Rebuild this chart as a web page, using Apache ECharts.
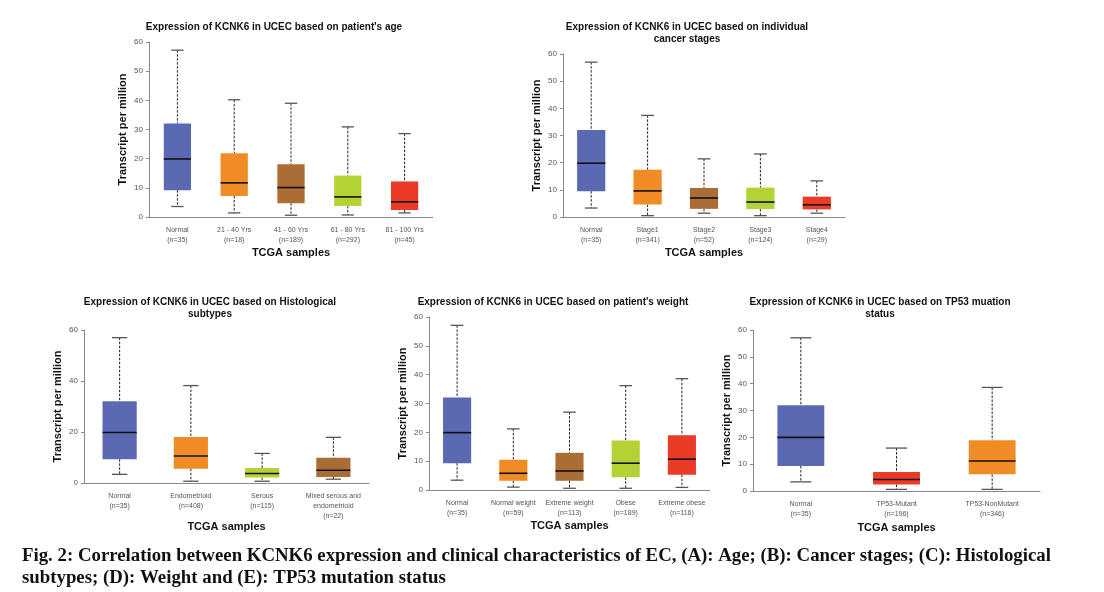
<!DOCTYPE html>
<html><head><meta charset="utf-8">
<script src="https://cdn.jsdelivr.net/npm/echarts@6/dist/echarts.min.js"></script>
<style>html,body{margin:0;padding:0;background:#fff}#c{width:1104px;height:592px}</style>
</head><body><div id="c"></div>
<script>
// ---- data: [min, Q1, median, Q3, max] per category ----
const ageCats = ['Normal\n(n=35)', '21 - 40 Yrs\n(n=18)', '41 - 60 Yrs\n(n=189)', '61 - 80 Yrs\n(n=292)', '81 - 100 Yrs\n(n=45)'];
const ageStats = [[3.6, 9.2, 19.9, 32.1, 57.2], [1.4, 7.2, 11.7, 21.9, 40.2], [0.6, 4.7, 10.1, 18.1, 39.0], [0.7, 3.8, 6.9, 14.2, 30.9], [1.4, 2.4, 5.2, 12.2, 28.6]];

const stageCats = ['Normal\n(n=35)', 'Stage1\n(n=341)', 'Stage2\n(n=52)', 'Stage3\n(n=124)', 'Stage4\n(n=29)'];
const stageStats = [[3.3, 9.5, 19.8, 32.0, 57.0], [0.5, 4.6, 9.6, 17.4, 37.4], [1.4, 3.0, 7.0, 10.7, 21.4], [0.5, 2.9, 5.5, 10.8, 23.2], [1.4, 2.8, 4.5, 7.5, 13.3]];

const histCats = ['Normal\n(n=35)', 'Endometrioid\n(n=408)', 'Serous\n(n=115)', 'Mixed serous and\nendometrioid\n(n=22)'];
const histStats = [[3.4, 9.3, 19.8, 32.1, 57.0], [0.7, 5.6, 10.6, 18.0, 38.2], [0.7, 2.2, 3.7, 5.9, 11.6], [1.5, 2.4, 5.0, 9.9, 17.9]];

const weightCats = ['Normal\n(n=35)', 'Normal weight\n(n=59)', 'Extreme weight\n(n=113)', 'Obese\n(n=189)', 'Extreme obese\n(n=116)'];
const weightStats = [[3.4, 9.3, 19.9, 32.1, 57.1], [1.0, 3.2, 5.8, 10.5, 21.2], [0.6, 3.2, 6.6, 12.9, 27.0], [0.6, 4.4, 9.3, 17.2, 36.2], [0.9, 5.3, 10.7, 19.0, 38.6]];

const tp53Cats = ['Normal\n(n=35)', 'TP53-Mutant\n(n=196)', 'TP53-NonMutant\n(n=346)'];
const tp53Stats = [[3.4, 9.3, 20.0, 32.0, 57.1], [0.6, 2.4, 4.3, 7.1, 16.0], [0.6, 6.2, 11.2, 18.9, 38.6]];

const titles = [
  ["Expression of KCNK6 in UCEC based on patient's age"],
  ["Expression of KCNK6 in UCEC based on individual", "cancer stages"],
  ["Expression of KCNK6 in UCEC based on Histological", "subtypes"],
  ["Expression of KCNK6 in UCEC based on patient's weight"],
  ["Expression of KCNK6 in UCEC based on TP53 muation", "status"]
];
const yName = 'Transcript per million';
const xName = 'TCGA samples';
const caption1 = 'Fig. 2: Correlation between KCNK6 expression and clinical characteristics of EC, (A): Age; (B): Cancer stages; (C): Histological';
const caption2 = 'subtypes; (D): Weight and (E): TP53 mutation status';

// ---- styles ----
const C = {blue: '#5a69b1', orange: '#f08c26', brown: '#aa6d36', green: '#b3d234', red: '#e93b26'};
const panels = [
  {cats: ageCats, stats: ageStats, colors: [C.blue, C.orange, C.brown, C.green, C.red], grid: {left: 149, top: 42, width: 284, height: 175}, interval: 10, boxW: 0.48, title: titles[0], tx: 274, ty: 27, xGap: 30},
  {cats: stageCats, stats: stageStats, colors: [C.blue, C.orange, C.brown, C.green, C.red], grid: {left: 563, top: 54, width: 282, height: 163}, interval: 10, boxW: 0.5, title: titles[1], tx: 687, ty: 27, xGap: 30},
  {cats: histCats, stats: histStats, colors: [C.blue, C.orange, C.green, C.brown], grid: {left: 84, top: 330, width: 285, height: 153}, interval: 20, boxW: 0.48, title: titles[2], tx: 210, ty: 302, xGap: 38},
  {cats: weightCats, stats: weightStats, colors: [C.blue, C.orange, C.brown, C.green, C.red], grid: {left: 429, top: 317, width: 281, height: 173}, interval: 10, boxW: 0.5, title: titles[3], tx: 553, ty: 302, xGap: 30},
  {cats: tp53Cats, stats: tp53Stats, colors: [C.blue, C.red, C.orange], grid: {left: 753, top: 330, width: 287, height: 161}, interval: 10, boxW: 0.49, title: titles[4], tx: 880, ty: 302, xGap: 31}
];

const grids = [], xAxes = [], yAxes = [], series = [], graphics = [];
panels.forEach((p, i) => {
  grids.push(Object.assign({containLabel: false}, p.grid));
  xAxes.push({
    type: 'category', gridIndex: i, data: p.cats, boundaryGap: true,
    axisLine: {lineStyle: {color: '#8a8a8a', width: 1}}, axisTick: {show: false},
    axisLabel: {fontFamily: 'Liberation Sans', fontSize: 7, color: '#555', lineHeight: 10, margin: 8, interval: 0},
    name: xName, nameLocation: 'middle', nameGap: p.xGap,
    nameTextStyle: {fontFamily: 'Liberation Sans', fontWeight: 'bold', fontSize: 11, color: '#111'}
  });
  yAxes.push({
    type: 'value', gridIndex: i, min: 0, max: 60, interval: p.interval,
    splitLine: {show: false},
    axisLine: {show: true, lineStyle: {color: '#8a8a8a', width: 1}},
    axisTick: {show: true, length: 3, lineStyle: {color: '#8a8a8a'}},
    axisLabel: {fontFamily: 'Liberation Sans', fontSize: 8, color: '#555', margin: 6},
    name: yName, nameLocation: 'middle', nameGap: 21,
    nameTextStyle: {fontFamily: 'Liberation Sans', fontWeight: 'bold', fontSize: 11, color: '#111'}
  });
  const colors = p.colors, bw = p.boxW;
  series.push({
    type: 'custom', xAxisIndex: i, yAxisIndex: i,
    data: p.stats.map((s, k) => [k].concat(s)),
    encode: {x: 0, y: [1, 2, 3, 4, 5]},
    renderItem: function (params, api) {
      const k = api.value(0);
      const cx = api.coord([k, 0])[0];
      const w = api.size([1, 0])[0] * bw;
      const capW = w * 0.45;
      const y = v => api.coord([k, api.value(v)])[1];
      const yMin = y(1), yQ1 = y(2), yMed = y(3), yQ3 = y(4), yMax = y(5);
      const dash = {stroke: '#222', lineWidth: 1, lineDash: [2.5, 1.5]};
      return {type: 'group', children: [
        {type: 'line', shape: {x1: cx, y1: yMax, x2: cx, y2: yQ3}, style: dash},
        {type: 'line', shape: {x1: cx, y1: yQ1, x2: cx, y2: yMin}, style: dash},
        {type: 'line', shape: {x1: cx - capW / 2, y1: yMax, x2: cx + capW / 2, y2: yMax}, style: {stroke: '#555', lineWidth: 1.3}},
        {type: 'line', shape: {x1: cx - capW / 2, y1: yMin, x2: cx + capW / 2, y2: yMin}, style: {stroke: '#555', lineWidth: 1.3}},
        {type: 'rect', shape: {x: cx - w / 2, y: yQ3, width: w, height: yQ1 - yQ3}, style: {fill: colors[k], stroke: null}},
        {type: 'line', shape: {x1: cx - w / 2, y1: yMed, x2: cx + w / 2, y2: yMed}, style: {stroke: '#111', lineWidth: 1.6}}
      ]};
    }
  });
  p.title.forEach((t, j) => {
    graphics.push({type: 'text', x: p.tx, y: p.ty + j * 12,
      style: {text: t, font: 'bold 10px "Liberation Sans"', fill: '#111', align: 'center', verticalAlign: 'middle', textAlign: 'center', textVerticalAlign: 'middle'}});
  });
});
graphics.push({type: 'text', x: 22, y: 556, scaleX: 1.045,
  style: {text: caption1, font: 'bold 18px "Liberation Serif"', fill: '#111', align: 'left', verticalAlign: 'middle', textAlign: 'left', textVerticalAlign: 'middle'}});
graphics.push({type: 'text', x: 22, y: 578, scaleX: 1.045,
  style: {text: caption2, font: 'bold 18px "Liberation Serif"', fill: '#111', align: 'left', verticalAlign: 'middle', textAlign: 'left', textVerticalAlign: 'middle'}});

const chart = echarts.init(document.getElementById('c'), null, {renderer: 'canvas'});
chart.setOption({animation: false, backgroundColor: '#fff', grid: grids, xAxis: xAxes, yAxis: yAxes, series: series, graphic: graphics});
</script>
</body></html>
